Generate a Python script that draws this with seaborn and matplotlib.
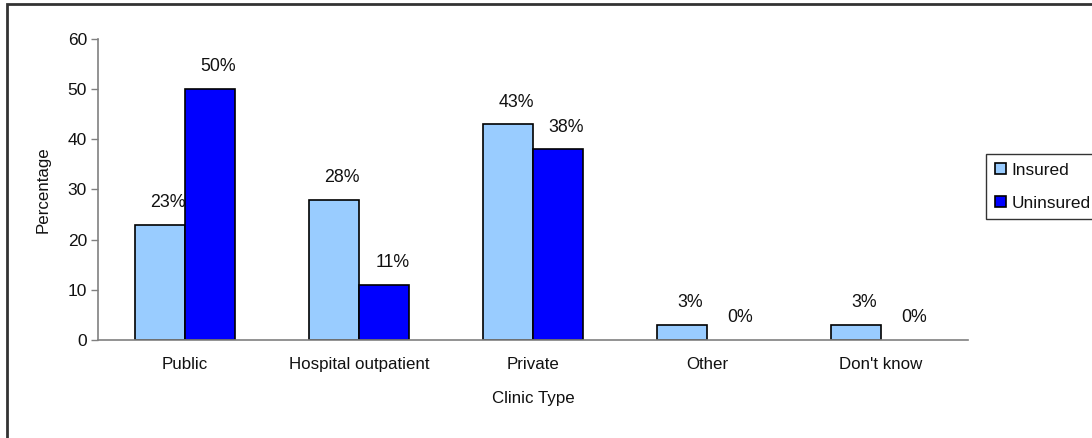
import pandas as pd
import matplotlib.pyplot as plt
import seaborn as sns
from matplotlib.patches import Rectangle

clinic_types = ['Public', 'Hospital outpatient', 'Private', 'Other', "Don't know"]
insured = [23, 28, 43, 3, 3]
uninsured = [50, 11, 38, 0, 0]
groups = ['Insured', 'Uninsured']

df = pd.DataFrame({
    'Clinic Type': clinic_types * 2,
    'Percentage': insured + uninsured,
    'Group': ['Insured'] * len(clinic_types) + ['Uninsured'] * len(clinic_types),
})

sns.set_style('white')
plt.rcParams['font.family'] = ['Liberation Sans', 'DejaVu Sans']

fig = plt.figure(figsize=(10.92, 4.38), dpi=100)
ax = fig.add_axes([98 / 1092, 1 - 340 / 438, 870 / 1092, 301 / 438])

sns.barplot(data=df, x='Clinic Type', y='Percentage', hue='Group', hue_order=groups,
            palette=['#99CCFF', '#0000FF'], width=0.575, edgecolor='black',
            linewidth=1.2, saturation=1, ax=ax, legend=True)

# labels sit behind the bars, like the original where 23% is half covered
for cont in ax.containers:
    for bar in cont:
        h = bar.get_height()
        if h == 0:
            bar.set_linewidth(0)
        ax.annotate(f'{h:.0f}%', (bar.get_x() + bar.get_width() / 2, h),
                    xytext=(6, 16), textcoords='offset points',
                    ha='center', va='center', fontsize=12.8, color='#111111',
                    zorder=0.5)

ax.set_ylim(0, 60)
ax.set_xlim(-0.5, 4.5)
ax.set_yticks(range(0, 61, 10))
ax.tick_params(axis='y', direction='out', length=5, width=1, color='#808080',
               labelsize=12.5, left=True, pad=3, labelcolor='#111111')
ax.tick_params(axis='x', length=0, labelsize=12.2, pad=12, labelcolor='#111111')
for s in ['top', 'right']:
    ax.spines[s].set_visible(False)
for s in ['left', 'bottom']:
    ax.spines[s].set_color('#808080')
    ax.spines[s].set_linewidth(1.2)

ax.set_xlabel('Clinic Type', fontsize=12.2, labelpad=14, color='#111111')
ax.set_ylabel('Percentage', fontsize=12.2, labelpad=12, color='#111111')

leg = ax.legend(loc='upper left', bbox_to_anchor=(986 / 1092, 1 - 154 / 438),
                bbox_transform=fig.transFigure, frameon=True, fancybox=False,
                fontsize=12.4, handlelength=0.65, handleheight=0.65,
                handletextpad=0.35, labelspacing=1.05, borderpad=0.5,
                borderaxespad=0)
leg.get_frame().set_edgecolor('black')
leg.get_frame().set_linewidth(1)
leg.set_title(None)
for t in leg.get_texts():
    t.set_color('#111111')

fig.patches.append(Rectangle((7 / 1092, -0.1), 1.2, 1 - 4 / 438 + 0.1,
                             transform=fig.transFigure, fill=False,
                             edgecolor='#333333', linewidth=2, zorder=0))

fig.savefig('out.png', dpi=100)
